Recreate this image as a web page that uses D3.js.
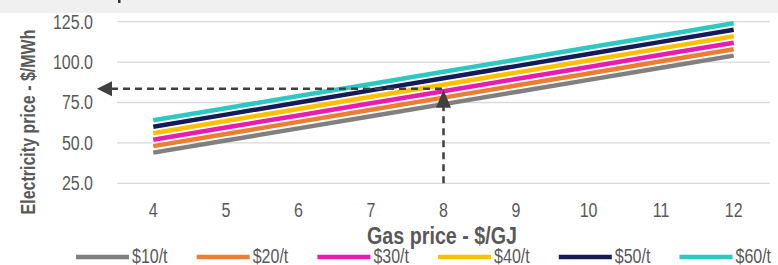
<!DOCTYPE html>
<html>
<head>
<meta charset="utf-8">
<script src="https://cdn.jsdelivr.net/npm/d3@7"></script>
<style>
  body { margin: 0; background: #fff; }
  svg { display: block; }
  text { font-family: "Liberation Sans Narrow", "Arial Narrow", "Liberation Sans", Arial, sans-serif; }
</style>
</head>
<body>
<div id="chart"></div>
<script>
var width = 778, height = 265;

// data
var gasPrices = [4, 5, 6, 7, 8, 9, 10, 11, 12];
var seriesNames = ["$10/t", "$20/t", "$30/t", "$40/t", "$50/t", "$60/t"];
var seriesColors = ["#808080", "#ed7d31", "#e81cb2", "#ffc000", "#151a5a", "#2ec8c2"];
var s10 = [44, 51.5, 59, 66.5, 74, 81.5, 89, 96.5, 104];
var s20 = [48, 55.5, 63, 70.5, 78, 85.5, 93, 100.5, 108];
var s30 = [52, 59.5, 67, 74.5, 82, 89.5, 97, 104.5, 112];
var s40 = [56, 63.5, 71, 78.5, 86, 93.5, 101, 108.5, 116];
var s50 = [60, 67.5, 75, 82.5, 90, 97.5, 105, 112.5, 120];
var s60 = [64, 71.5, 79, 86.5, 94, 101.5, 109, 116.5, 124];
var yTicks = [25, 50, 75, 100, 125];
var refGas = 8, refElec = 83.5;

var allSeries = [s10, s20, s30, s40, s50, s60];

var svg = d3.select("#chart").append("svg")
    .attr("width", width)
    .attr("height", height);

// grey strip at top (bottom of a cropped-off title)
svg.append("rect")
    .attr("x", 0).attr("y", 0)
    .attr("width", width).attr("height", 13)
    .attr("fill", "#f0f0f0");
svg.append("rect")
    .attr("x", 118).attr("y", 0)
    .attr("width", 2.5).attr("height", 3)
    .attr("fill", "#333");

var x = d3.scaleBand()
    .domain(gasPrices)
    .range([117, 770]);

var y = d3.scaleLinear()
    .domain([25, 125])
    .range([183.3, 21.7]);

// gridlines
svg.append("g").selectAll("line")
    .data(yTicks)
    .enter().append("line")
    .attr("x1", 117).attr("x2", 770)
    .attr("y1", d => y(d)).attr("y2", d => y(d))
    .attr("stroke", "#d9d9d9")
    .attr("stroke-width", 1.3);

// y labels
svg.append("g").selectAll("text")
    .data(yTicks)
    .enter().append("text")
    .attr("class", "narrow")
    .attr("x", 93)
    .attr("y", d => y(d))
    .attr("dy", "0.35em")
    .attr("text-anchor", "end")
    .attr("font-size", 19.5)
    .attr("fill", "#595959")
    .text(d => d.toFixed(1));

// x labels
svg.append("g").selectAll("text")
    .data(gasPrices)
    .enter().append("text")
    .attr("class", "narrow")
    .attr("x", d => x(d) + x.bandwidth() / 2)
    .attr("y", 210)
    .attr("dy", "0.35em")
    .attr("text-anchor", "middle")
    .attr("font-size", 19.5)
    .attr("fill", "#595959")
    .text(d => d);

// axis titles
svg.append("text")
    .attr("class", "narrow")
    .attr("x", 442)
    .attr("y", 236)
    .attr("dy", "0.35em")
    .attr("text-anchor", "middle")
    .attr("font-size", 24)
    .attr("font-weight", "bold")
    .attr("fill", "#595959")
    .text("Gas price - $/GJ");

svg.append("text")
    .attr("class", "narrow")
    .attr("transform", "translate(28,122) rotate(-90)")
    .attr("dy", "0.35em")
    .attr("text-anchor", "middle")
    .attr("font-size", 19.5)
    .attr("font-weight", "bold")
    .attr("fill", "#595959")
    .text("Electricity price - $/MWh");

// series lines
var line = d3.line()
    .x((d, i) => x(gasPrices[i]) + x.bandwidth() / 2)
    .y(d => y(d));

svg.append("g").selectAll("path")
    .data(allSeries)
    .enter().append("path")
    .attr("d", line)
    .attr("fill", "none")
    .attr("stroke", (d, i) => seriesColors[i])
    .attr("stroke-width", 4.5);

// reference arrows
var gx = x(refGas) + x.bandwidth() / 2;
var ey = y(refElec);
var dash = "#404040";

svg.append("line")
    .attr("x1", 111).attr("x2", gx)
    .attr("y1", ey).attr("y2", ey)
    .attr("stroke", dash)
    .attr("stroke-width", 2.5)
    .attr("stroke-dasharray", "7,5");

svg.append("line")
    .attr("x1", gx).attr("x2", gx)
    .attr("y1", y(25)).attr("y2", ey + 16)
    .attr("stroke", dash)
    .attr("stroke-width", 2.5)
    .attr("stroke-dasharray", "7,5");

svg.append("path")
    .attr("d", "M97," + ey + "L112," + (ey - 7.5) + "L112," + (ey + 7.5) + "Z")
    .attr("fill", dash);

svg.append("path")
    .attr("d", "M" + gx + "," + (ey + 1) + "L" + (gx - 7.5) + "," + (ey + 19) + "L" + (gx + 7.5) + "," + (ey + 19) + "Z")
    .attr("fill", dash);

// legend
var legend = svg.append("g").selectAll("g")
    .data(seriesNames)
    .enter().append("g")
    .attr("transform", (d, i) => "translate(" + (76 + i * 120.7) + ",257)");

legend.append("line")
    .attr("x1", 0).attr("x2", 53)
    .attr("stroke", (d, i) => seriesColors[i])
    .attr("stroke-width", 4.5);

legend.append("text")
    .attr("class", "narrow")
    .attr("x", 56)
    .attr("dy", "0.32em")
    .attr("font-size", 19.5)
    .attr("fill", "#595959")
    .text(d => d);

// no narrow font installed: squeeze the regular one to about Arial Narrow width
svg.selectAll("text.narrow").each(function () {
    var len = this.getComputedTextLength();
    d3.select(this)
        .attr("textLength", len * 0.82)
        .attr("lengthAdjust", "spacingAndGlyphs");
});
</script>
</body>
</html>
